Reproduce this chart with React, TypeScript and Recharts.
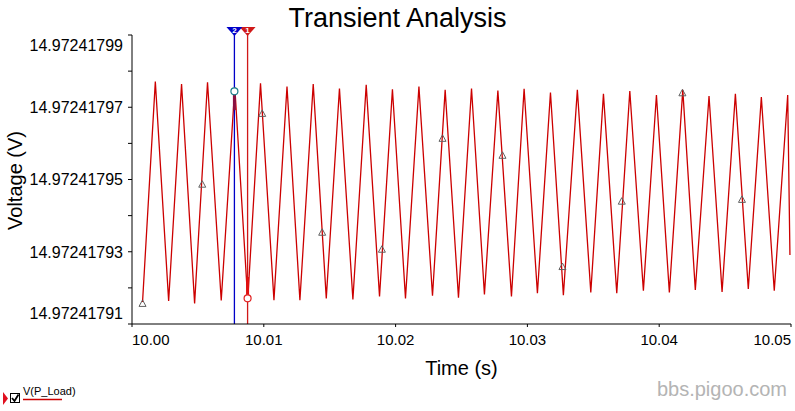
import React from "react";
import { ComposedChart, Line, Scatter, XAxis, YAxis, ReferenceLine, ReferenceDot } from "recharts";

// peaks / troughs of V(P_Load)
const waveTime = [
  10.0008, 10.00177, 10.00278, 10.00376, 10.00475, 10.00573, 10.00677, 10.0078, 10.00878, 10.00975,
  10.01077, 10.01176, 10.01274, 10.01375, 10.01474, 10.01574, 10.01676, 10.01777, 10.01878, 10.01976,
  10.02075, 10.02177, 10.0228, 10.02376, 10.02477, 10.02576, 10.02674, 10.02776, 10.02879, 10.02975,
  10.03076, 10.03175, 10.03273, 10.03379, 10.03481, 10.03577, 10.03678, 10.03777, 10.0388, 10.03979,
  10.04077, 10.04179, 10.04274, 10.04378, 10.04477, 10.04578, 10.04676, 10.04775, 10.04873, 10.04975,
  10.04992,
];
const waveVolt = [
  14.9724179161, 14.9724179771, 14.9724179164, 14.9724179764, 14.9724179157, 14.9724179769, 14.9724179165, 14.9724179756, 14.9724179166, 14.9724179766,
  14.9724179166, 14.9724179757, 14.9724179166, 14.9724179764, 14.9724179171, 14.9724179752, 14.9724179168, 14.9724179762, 14.9724179176, 14.972417975,
  14.9724179171, 14.9724179757, 14.9724179178, 14.9724179748, 14.9724179173, 14.9724179752, 14.9724179182, 14.9724179746, 14.9724179176, 14.9724179751,
  14.9724179185, 14.9724179741, 14.972417918, 14.9724179748, 14.9724179187, 14.9724179737, 14.9724179185, 14.9724179745, 14.9724179192, 14.9724179734,
  14.9724179187, 14.9724179748, 14.9724179194, 14.9724179731, 14.9724179189, 14.9724179737, 14.9724179197, 14.9724179728, 14.9724179192, 14.9724179734,
  14.9724179291,
];

// triangle markers drawn on the trace
const markTime = [10.0008, 10.00533, 10.00988, 10.01443, 10.01896, 10.02356, 10.02811, 10.03266, 10.03716, 10.04176, 10.04628];
const markVolt = [
  14.9724179157, 14.9724179487, 14.9724179683, 14.9724179354, 14.9724179307, 14.9724179614,
  14.9724179567, 14.9724179259, 14.972417944, 14.972417974, 14.9724179445,
];

// cursors 1 (red) and 2 (blue)
const cursorNames = ["1", "2"];
const cursorColors = ["#d01818", "#0000c8"];
const cursorTime = [10.00877, 10.00777];
const cursorVolt = [14.9724179171, 14.9724179744];
const cursorBandTop = [14.972417923, 14.9724179744];
const cursorBandBottom = [14.9724179175, 14.9724179692];

const timeTicks = [10, 10.01, 10.02, 10.03, 10.04, 10.05];
const voltTicks = [
  14.97241791, 14.97241792, 14.97241793, 14.97241794, 14.97241795,
  14.97241796, 14.97241797, 14.97241798, 14.97241799,
];
const voltLabels = [14.97241791, 14.97241793, 14.97241795, 14.97241797, 14.97241799];

const wave = waveTime.map((t, i) => ({ t, v: waveVolt[i] }));
const marks = markTime.map((t, i) => ({ t, v: markVolt[i] }));

const FONT = "'Liberation Sans', Arial, sans-serif";

function TimeTick({ x, y, payload, index }: any) {
  const last = timeTicks.length - 1;
  const anchor = index === 0 ? "start" : index === last ? "end" : "middle";
  return (
    <text x={x} y={y} dy={16} textAnchor={anchor} fontSize={15} fontFamily={FONT} fill="#000">
      {Number(payload.value).toFixed(2)}
    </text>
  );
}

function VoltTick({ x, y, payload }: any) {
  const v = Number(payload.value);
  if (!voltLabels.some((l) => Math.abs(l - v) < 1e-12)) return null;
  // end labels are pulled inside the plot like the original
  let shift = 0;
  if (Math.abs(v - voltLabels[voltLabels.length - 1]) < 1e-12) shift = 10;
  if (Math.abs(v - voltLabels[0]) < 1e-12) shift = -11;
  return (
    <text x={x} y={y + shift} dy="0.36em" textAnchor="end" fontSize={16} fontFamily={FONT} fill="#000">
      {v.toFixed(8)}
    </text>
  );
}

function VoltTitle({ viewBox }: any) {
  const cy = viewBox.y + viewBox.height / 2 + 1;
  return (
    <text transform={`translate(22,${cy}) rotate(-90)`} textAnchor="middle" fontSize={20} fontFamily={FONT} fill="#000">
      Voltage (V)
    </text>
  );
}

function TriMark({ cx, cy }: any) {
  if (cx == null || cy == null) return null;
  return <polygon points={`${cx - 3.5},${cy + 3} ${cx + 3.5},${cy + 3} ${cx},${cy - 3.5}`} fill="none" stroke="#606060" strokeWidth={1} />;
}

function CursorHead({ viewBox, name, color }: any) {
  const x = viewBox.x;
  const y = viewBox.y;
  return (
    <g>
      <polygon points={`${x - 8},${y - 8} ${x + 8},${y - 8} ${x},${y + 1}`} fill={color} />
      <text x={x} y={y - 2} textAnchor="middle" fontSize={8} fontWeight="bold" fontFamily={FONT} fill="#fff">
        {name}
      </text>
    </g>
  );
}

export default function App() {
  return (
    <div style={{ position: "absolute", left: 0, top: 0, width: 795, height: 411, background: "#fff", fontFamily: FONT }}>
      <ComposedChart width={795} height={411} margin={{ top: 35, right: 4, bottom: 57, left: 0 }}>
        <XAxis
          type="number"
          dataKey="t"
          domain={[10, 10.05]}
          ticks={timeTicks}
          interval={0}
          allowDataOverflow
          height={30}
          tickSize={3}
          tickMargin={2}
          tick={<TimeTick />}
          axisLine={{ stroke: "#000" }}
          tickLine={{ stroke: "#000" }}
          label={{ value: "Time (s)", position: "bottom", offset: 7, fontSize: 20, fill: "#000", fontFamily: FONT }}
        />
        <YAxis
          type="number"
          dataKey="v"
          domain={[14.97241791, 14.97241799]}
          ticks={voltTicks}
          interval={0}
          allowDataOverflow
          width={132}
          tickSize={4}
          tickMargin={5}
          tick={<VoltTick />}
          axisLine={{ stroke: "#000" }}
          tickLine={{ stroke: "#000" }}
          label={<VoltTitle />}
        />
        <Line data={wave} dataKey="v" type="linear" stroke="#cc0000" strokeWidth={1.3} dot={false} isAnimationActive={false} />
        <Scatter data={marks} dataKey="v" shape={<TriMark />} isAnimationActive={false} />
        {cursorNames.map((name, i) => (
          <ReferenceLine
            key={"c" + name}
            x={cursorTime[i]}
            stroke={cursorColors[i]}
            strokeWidth={1.3}
            label={<CursorHead name={name} color={cursorColors[i]} />}
          />
        ))}
        {cursorNames.map((name, i) => (
          <ReferenceLine
            key={"b" + name}
            segment={[
              { x: cursorTime[i], y: cursorBandTop[i] },
              { x: cursorTime[i], y: cursorBandBottom[i] },
            ]}
            stroke={i === 0 ? "#e01010" : "#8a1040"}
            strokeWidth={3}
          />
        ))}
        {cursorNames.map((name, i) => (
          <ReferenceDot
            key={"d" + name}
            x={cursorTime[i]}
            y={cursorVolt[i]}
            r={3.5}
            fill="#fff"
            stroke={i === 0 ? "#e02020" : "#1a7f8a"}
            strokeWidth={1.2}
          />
        ))}
      </ComposedChart>
      <svg width={795} height={411} style={{ position: "absolute", left: 0, top: 0, pointerEvents: "none" }}>
        <text x={397.5} y={27} textAnchor="middle" fontSize={27} fontFamily={FONT} fill="#000">
          Transient Analysis
        </text>
        <polygon points="3,392 8,398.5 3,405" fill="#e01020" />
        <rect x={10.5} y={393.5} width={9} height={9} fill="#fff" stroke="#000" strokeWidth={1} />
        <polyline points="12,398 14.5,401 18.5,394.5" fill="none" stroke="#000" strokeWidth={1.8} />
        <text x={23} y={395} fontSize={11} fontFamily={FONT} fill="#000">
          V(P_Load)
        </text>
        <line x1={23} y1={399.5} x2={62} y2={399.5} stroke="#cc0000" strokeWidth={1.5} />
        <text x={787} y={396} textAnchor="end" fontSize={20} fontFamily={FONT} fill="#b4b4b4">
          bbs.pigoo.com
        </text>
      </svg>
    </div>
  );
}
